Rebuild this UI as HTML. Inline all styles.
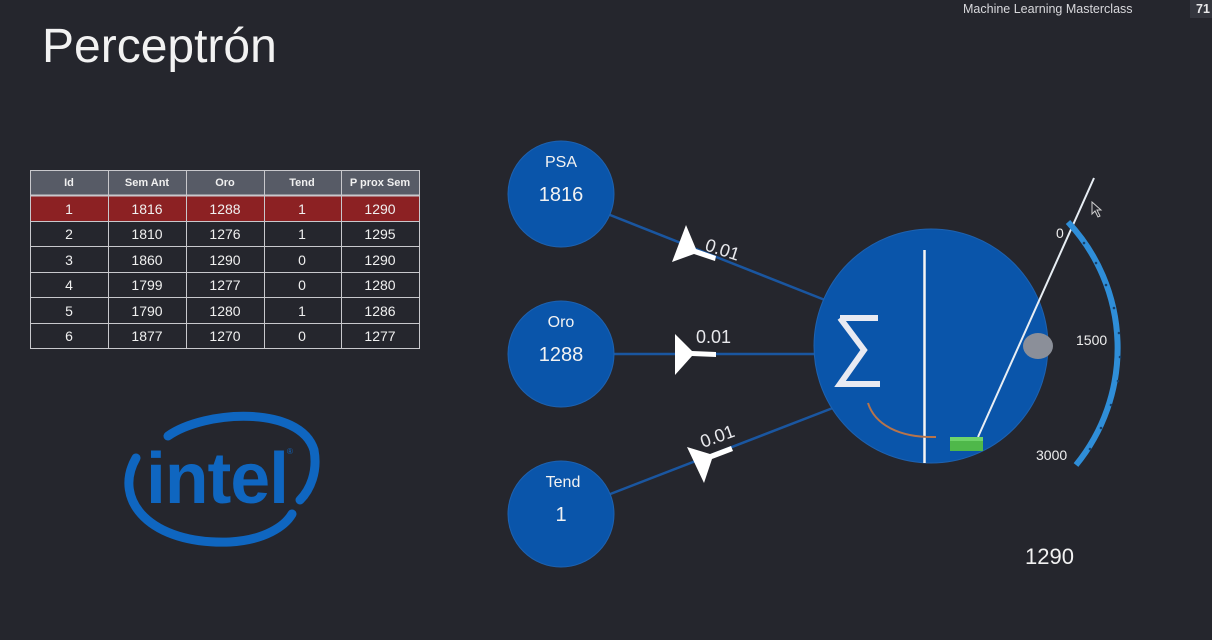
<!DOCTYPE html>
<html><head><meta charset="utf-8"><style>
html,body{margin:0;padding:0;background:#25262d;width:1212px;height:640px;overflow:hidden;font-family:"Liberation Sans",sans-serif}
</style></head><body>
<svg width="1212" height="640" viewBox="0 0 1212 640" xmlns="http://www.w3.org/2000/svg" font-family="Liberation Sans, sans-serif">
<rect width="1212" height="640" fill="#25262d"/>
<text x="963" y="13" font-size="12.5" fill="#d8d8dc">Machine Learning Masterclass</text>
<rect x="1190" y="0" width="22" height="18" fill="#34363e"/>
<text x="1196" y="13" font-size="12.5" font-weight="bold" fill="#e8e8ea">71</text>
<text x="42" y="62" font-size="48" fill="#f2f2f2">Perceptrón</text>

<!-- table -->
<g font-size="14" fill="#f0f0f0" text-anchor="middle">
<rect x="30" y="170" width="389" height="25" fill="#575b66"/>
<rect x="30" y="196" width="389" height="25" fill="#8c2123"/>
<g stroke="#c8c8cc" stroke-width="1" fill="none">
<rect x="30.5" y="170.5" width="389" height="178"/>
<line x1="30" y1="195.5" x2="419" y2="195.5" stroke-width="2"/>
<line x1="30" y1="221.5" x2="419" y2="221.5"/>
<line x1="30" y1="246.5" x2="419" y2="246.5"/>
<line x1="30" y1="272.5" x2="419" y2="272.5"/>
<line x1="30" y1="297.5" x2="419" y2="297.5"/>
<line x1="30" y1="323.5" x2="419" y2="323.5"/>
<line x1="108.5" y1="170" x2="108.5" y2="348"/>
<line x1="186.5" y1="170" x2="186.5" y2="348"/>
<line x1="264.5" y1="170" x2="264.5" y2="348"/>
<line x1="341.5" y1="170" x2="341.5" y2="348"/>
</g>
<g font-size="11" font-weight="bold">
<text x="69" y="186">Id</text><text x="147" y="186">Sem Ant</text><text x="225" y="186">Oro</text><text x="302" y="186">Tend</text><text x="380" y="186">P prox Sem</text>
</g>
<text x="69" y="214">1</text><text x="147" y="214">1816</text><text x="225" y="214">1288</text><text x="302" y="214">1</text><text x="380" y="214">1290</text>
<text x="69" y="239">2</text><text x="147" y="239">1810</text><text x="225" y="239">1276</text><text x="302" y="239">1</text><text x="380" y="239">1295</text>
<text x="69" y="265">3</text><text x="147" y="265">1860</text><text x="225" y="265">1290</text><text x="302" y="265">0</text><text x="380" y="265">1290</text>
<text x="69" y="290">4</text><text x="147" y="290">1799</text><text x="225" y="290">1277</text><text x="302" y="290">0</text><text x="380" y="290">1280</text>
<text x="69" y="316">5</text><text x="147" y="316">1790</text><text x="225" y="316">1280</text><text x="302" y="316">1</text><text x="380" y="316">1286</text>
<text x="69" y="341">6</text><text x="147" y="341">1877</text><text x="225" y="341">1270</text><text x="302" y="341">0</text><text x="380" y="341">1277</text>
</g>

<!-- intel logo -->
<g fill="none" stroke="#0f66c0" stroke-width="9" stroke-linecap="round">
<path d="M168,436 C205,410 300,405 314,450 C318,472 310,490 300,500"/>
<path d="M136,458 C112,500 150,545 230,542 C265,540 285,526 292,514"/>
</g>
<text x="146" y="503" font-size="72" font-weight="bold" fill="#0f66c0" letter-spacing="-1" textLength="142" lengthAdjust="spacingAndGlyphs">intel</text>
<text x="287" y="454" font-size="8" fill="#0f66c0">®</text>

<!-- connectors -->
<g stroke="#1a56a0" stroke-width="2.5">
<line x1="600" y1="211" x2="830" y2="302"/>
<line x1="600" y1="354" x2="822" y2="354"/>
<line x1="600" y1="498" x2="838" y2="406"/>
</g>
<g fill="#0a55aa" stroke="#1e62b0" stroke-width="1">
<circle cx="561" cy="194" r="53"/>
<circle cx="561" cy="354" r="53"/>
<circle cx="561" cy="514" r="53"/>
<circle cx="931" cy="346" r="117"/>
</g>
<g fill="#f2f2f2" text-anchor="middle">
<text x="561" y="167" font-size="16">PSA</text>
<text x="561" y="201" font-size="20">1816</text>
<text x="561" y="327" font-size="16">Oro</text>
<text x="561" y="361" font-size="20">1288</text>
<text x="563" y="487" font-size="16">Tend</text>
<text x="561" y="521" font-size="20">1</text>
</g>

<!-- weight markers -->
<g fill="#ffffff">
<polygon points="686,225 696,249 716,256 715,261 694,254 672,262"/>
<polygon points="675,334 692,351 716,352 716,357 692,356 675,375"/>
<polygon points="687,447 710,454 731,446 733,451 712,459 704,483"/>
</g>
<g fill="#e8e8ec" font-size="18">
<text x="704" y="250" transform="rotate(18 704 250)">0.01</text>
<text x="696" y="343">0.01</text>
<text x="703" y="448" transform="rotate(-20 703 448)">0.01</text>
</g>

<!-- neuron internals -->
<path d="M840,318 L878,318 M840,318 L864,350 L840,384 L880,384" fill="none" stroke="#e8eaf2" stroke-width="6" stroke-linejoin="miter"/>
<line x1="924.5" y1="250" x2="924.5" y2="463" stroke="#f4f4f4" stroke-width="2.5"/>
<path d="M868,403 C875,425 900,438 936,437" fill="none" stroke="#b8744a" stroke-width="2"/>
<ellipse cx="1038" cy="346" rx="15" ry="13" fill="#8b8f99"/>
<line x1="1094" y1="178" x2="978" y2="437" stroke="#e8eef4" stroke-width="2"/>
<rect x="950" y="437" width="33" height="14" fill="#4fb84a"/>
<rect x="950" y="437" width="33" height="4" fill="#6fd46a"/>

<!-- gauge -->
<path d="M1068,222 A185,185 0 0 1 1076,465" fill="none" stroke="#2f8ed8" stroke-width="6"/>
<g fill="#15426e">
<circle cx="1084" cy="243" r="1.3"/><circle cx="1096" cy="263" r="1.3"/><circle cx="1106" cy="285" r="1.3"/><circle cx="1114" cy="308" r="1.3"/><circle cx="1119" cy="333" r="1.3"/><circle cx="1120" cy="357" r="1.3"/><circle cx="1118" cy="381" r="1.3"/><circle cx="1111" cy="405" r="1.3"/><circle cx="1101" cy="428" r="1.3"/><circle cx="1090" cy="449" r="1.3"/>
</g>
<g fill="#eeeeee" font-size="14">
<text x="1056" y="238">0</text>
<text x="1076" y="345">1500</text>
<text x="1036" y="460">3000</text>
</g>
<path d="M1092,202 L1092,214 L1095,211 L1098,217 L1100,216 L1097,210 L1101,210 Z" fill="none" stroke="#cfcfcf" stroke-width="1"/>
<text x="1025" y="564" font-size="22" fill="#f2f2f2">1290</text>
</svg>
</body></html>
